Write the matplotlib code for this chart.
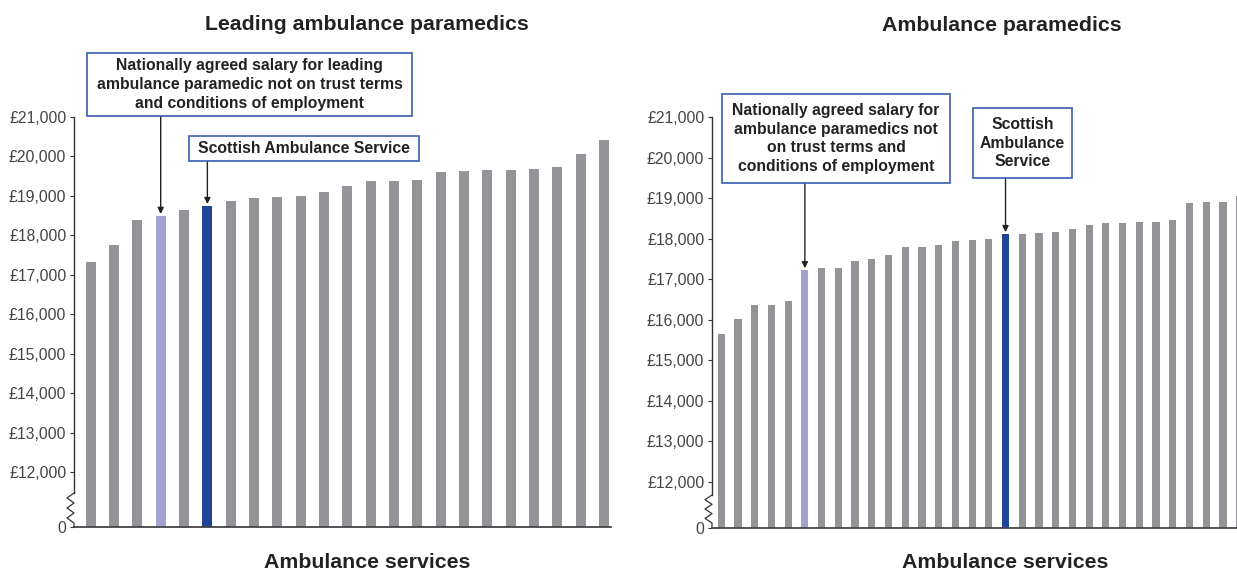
import numpy as np
import matplotlib
matplotlib.use("Agg")
import matplotlib.pyplot as plt
from matplotlib.patches import Rectangle

plt.rcParams["font.family"] = ["Liberation Sans", "DejaVu Sans"]

# Salaries by ambulance service, sorted ascending
leading_salaries = [17320, 17750, 18390, 18490, 18640, 18740, 18870, 18950,
                    18970, 19000, 19100, 19250, 19380, 19380, 19400, 19610,
                    19630, 19660, 19660, 19680, 19730, 20060, 20420]
leading_national_idx = 3
leading_scottish_idx = 5

paramedic_salaries = [15650, 16030, 16360, 16360, 16460, 17220, 17270, 17270,
                      17450, 17500, 17600, 17790, 17790, 17840, 17940, 17970,
                      17990, 18110, 18110, 18140, 18160, 18240, 18340, 18390,
                      18390, 18410, 18410, 18460, 18880, 18900, 18900, 19050]
paramedic_national_idx = 5
paramedic_scottish_idx = 17

y_ticks = [0, 12000, 13000, 14000, 15000, 16000, 17000, 18000, 19000, 20000, 21000]
y_tick_labels = ["0" if v == 0 else "£{:,}".format(v) for v in y_ticks]

titles = ["Leading ambulance paramedics", "Ambulance paramedics"]
x_label = "Ambulance services"
national_notes = ["Nationally agreed salary for leading\nambulance paramedic not on trust terms\nand conditions of employment",
                  "Nationally agreed salary for\nambulance paramedics not\non trust terms and\nconditions of employment"]
scottish_notes = ["Scottish Ambulance Service", "Scottish\nAmbulance\nService"]

GREY = "#939498"
LIGHT = "#a1a3d1"
DARK = "#1e4497"
BOX_EDGE = "#3a5db2"
TEXT = "#222222"

W, H = 1237, 570
fig = plt.figure(figsize=(W / 100, H / 100), dpi=100)


def px_rect(x0, y0, x1, y1):
    """Figure-fraction rect from top-left pixel coordinates."""
    return [x0 / W, 1 - y1 / H, (x1 - x0) / W, (y1 - y0) / H]


def broken_scale(gap):
    def fwd(v):
        v = np.asarray(v, dtype=float)
        return np.where(v < 12000, v * gap / 12000, v - 12000 + gap)

    def inv(y):
        y = np.asarray(y, dtype=float)
        return np.where(y < gap, y * 12000 / gap, y + 12000 - gap)
    return fwd, inv


def draw_panel(rect, values, nat_idx, scot_idx, xlim, width, gap, break_px):
    ax = fig.add_axes(px_rect(*rect))
    n = len(values)
    colors = [GREY] * n
    colors[nat_idx] = LIGHT
    colors[scot_idx] = DARK
    ax.bar(np.arange(n), values, width=width, color=colors, zorder=2)
    ax.set_yscale("function", functions=broken_scale(gap))
    ax.set_ylim(0, 21000)
    ax.set_xlim(*xlim)
    ax.set_yticks(y_ticks)
    ax.set_yticklabels(y_tick_labels)
    ax.set_xticks([])
    ax.tick_params(axis="y", length=3, width=0.8, color="#333333",
                   labelsize=11.3, labelcolor="#444444", pad=2.5)
    for s in ("top", "right", "left"):
        ax.spines[s].set_visible(False)
    ax.spines["bottom"].set_color("#444444")
    ax.spines["bottom"].set_linewidth(1.3)

    # vertical axis line with zigzag break near the origin
    ax_h = rect[3] - rect[1]
    ax_w = rect[2] - rect[0]
    top_break = (rect[3] - break_px[0]) / ax_h
    bot_break = (rect[3] - break_px[1]) / ax_h
    ax.plot([0, 0], [top_break, 1], transform=ax.transAxes, color="#333333",
            lw=1.0, clip_on=False)
    ys = np.linspace(top_break, bot_break, 7)
    dx = 7 / ax_w
    xs = [0, -dx, 0, -dx, 0, -dx, 0]
    ax.plot(list(xs) + [0], list(ys) + [0], transform=ax.transAxes,
            color="#333333", lw=0.9, clip_on=False)
    return ax


def note(ax, box, text, bar_idx, value, fontsize=11.3):
    x0, y0, x1, y1 = box
    fig.patches.append(Rectangle((x0 / W, 1 - y1 / H), (x1 - x0) / W, (y1 - y0) / H,
                                 transform=fig.transFigure, fc="white",
                                 ec=BOX_EDGE, lw=1.2, zorder=5))
    fig.text((x0 + x1) / 2 / W, 1 - (y0 + y1) / 2 / H, text, ha="center",
             va="center", fontsize=fontsize, fontweight="bold", color=TEXT,
             linespacing=1.3, zorder=6)
    ax.annotate("", xy=(bar_idx, value), xycoords="data",
                xytext=(bar_idx, H - y1), textcoords=("data", "figure pixels"),
                arrowprops=dict(arrowstyle="-|>", color="#222222", lw=1.0,
                                mutation_scale=9, shrinkA=0, shrinkB=1.5),
                annotation_clip=False)


# Left panel: leading ambulance paramedics
ax1 = draw_panel((74, 117, 611, 527), leading_salaries, leading_national_idx,
                 leading_scottish_idx, (-0.716, 22.3), 0.43, 1394, (493, 523))
note(ax1, (87, 53, 412, 116), national_notes[0], leading_national_idx,
     leading_salaries[leading_national_idx])
note(ax1, (189, 136, 419, 161), scottish_notes[0], leading_scottish_idx,
     leading_salaries[leading_scottish_idx])

# Right panel: ambulance paramedics
ax2 = draw_panel((712, 117, 1248, 528), paramedic_salaries, paramedic_national_idx,
                 paramedic_scottish_idx, (-0.555, 31.5), 0.43, 1134, (495, 523))
note(ax2, (722, 94, 950, 183), national_notes[1], paramedic_national_idx,
     paramedic_salaries[paramedic_national_idx])
note(ax2, (973, 108, 1072, 178), scottish_notes[1], paramedic_scottish_idx,
     paramedic_salaries[paramedic_scottish_idx])

# Titles and axis captions
fig.text(367 / W, 1 - 29.5 / H, titles[0], ha="center", va="baseline",
         fontsize=15.3, fontweight="bold", color=TEXT)
fig.text(1002 / W, 1 - 31 / H, titles[1], ha="center", va="baseline",
         fontsize=15.3, fontweight="bold", color=TEXT)
fig.text(367 / W, 1 - 567.5 / H, x_label, ha="center", va="baseline",
         fontsize=15.3, fontweight="bold", color=TEXT)
fig.text(1005 / W, 1 - 567.5 / H, x_label, ha="center", va="baseline",
         fontsize=15.3, fontweight="bold", color=TEXT)

fig.savefig("out.png", dpi=100)
